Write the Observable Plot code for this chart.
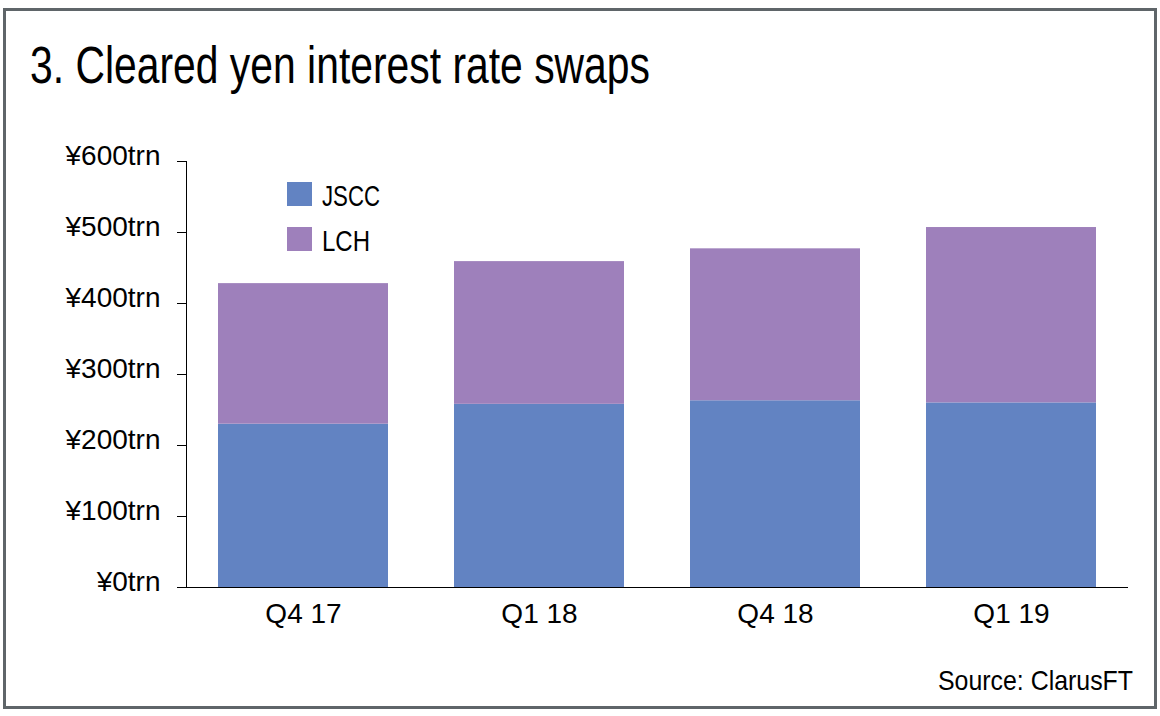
<!DOCTYPE html>
<html>
<head>
<meta charset="utf-8">
<script src="https://cdn.jsdelivr.net/npm/d3@7"></script>
<script src="https://cdn.jsdelivr.net/npm/@observablehq/plot@0.6"></script>
<style>
  html, body { margin: 0; padding: 0; background: #fff; }
  #wrap { position: relative; width: 1160px; height: 716px; overflow: hidden; background: #fff; }
  #wrap svg { position: absolute; left: 0; top: 0; }
  .frameBox { position: absolute; left: 3px; top: 7.5px; width: 1154px; height: 701px; box-sizing: border-box; border: 3px solid #5f6569; }
  .sw { position: absolute; left: 287px; width: 25px; height: 24px; }
  #overlay text { font-family: "Liberation Sans", Arial, sans-serif; fill: #000; }
</style>
</head>
<body>
<div id="wrap">
  <div class="frameBox"></div>
</div>
<script>
const quarters = ["Q4 17", "Q1 18", "Q4 18", "Q1 19"];
const jscc = [230, 258, 263, 260];
const lch = [198, 201, 214, 247];
const series = ["JSCC", "LCH"];
const seriesColors = ["#6283c2", "#9e80bb"];
const yTicks = [0, 100, 200, 300, 400, 500, 600];
const titleText = "3. Cleared yen interest rate swaps";
const sourceText = "Source: ClarusFT";

const data = quarters.flatMap((q, i) => [
  {quarter: q, series: "JSCC", value: jscc[i]},
  {quarter: q, series: "LCH", value: lch[i]}
]);

const plot = Plot.plot({
  width: 1160,
  height: 716,
  marginLeft: 186,
  marginRight: 32,
  marginTop: 161,
  marginBottom: 129,
  style: {fontFamily: "'Liberation Sans', Arial, sans-serif", fontSize: "28px", color: "#000", background: "transparent", overflow: "visible"},
  x: {domain: quarters, paddingInner: 0.28, paddingOuter: 0.135, label: null},
  y: {domain: [0, 600], label: null},
  color: {domain: series, range: seriesColors},
  marks: [
    Plot.barY(data, {x: "quarter", y: "value", fill: "series", order: series}),
    Plot.frame({anchor: "left", stroke: "#000"}),
    Plot.axisY({ticks: yTicks, tickSize: 9, fill: "none", stroke: "#000", label: null}),
    Plot.axisY({ticks: yTicks, tickSize: 9, tickPadding: 17, stroke: "none", dy: -5, tickFormat: d => `¥${d}trn`, label: null}),
    Plot.axisX({tickSize: 0, tickPadding: 16, label: null}),
    Plot.ruleY([0], {stroke: "#000"})
  ]
});

const wrap = document.getElementById("wrap");
wrap.appendChild(plot);

// legend swatches
const colorScale = plot.scale("color");
const legTops = [181.7, 226.7];
series.forEach((s, i) => {
  const sw = document.createElement("div");
  sw.className = "sw";
  sw.style.top = legTops[i] + "px";
  sw.style.background = colorScale.range[i];
  wrap.appendChild(sw);
});

// text overlay (title, legend labels, source)
const svg = d3.select(wrap).append("svg")
  .attr("id", "overlay")
  .attr("width", 1160).attr("height", 716)
  .style("pointer-events", "none");

svg.append("text")
  .attr("x", 30).attr("y", 83)
  .attr("font-size", 51)
  .attr("textLength", 620).attr("lengthAdjust", "spacingAndGlyphs")
  .text(titleText);

const legLens = [58, 48];
series.forEach((s, i) => {
  svg.append("text")
    .attr("x", 322).attr("y", legTops[i] + 24)
    .attr("font-size", 30)
    .attr("textLength", legLens[i]).attr("lengthAdjust", "spacingAndGlyphs")
    .text(s);
});

svg.append("text")
  .attr("x", 938).attr("y", 690)
  .attr("font-size", 28)
  .attr("textLength", 195).attr("lengthAdjust", "spacingAndGlyphs")
  .text(sourceText);
</script>
</body>
</html>
